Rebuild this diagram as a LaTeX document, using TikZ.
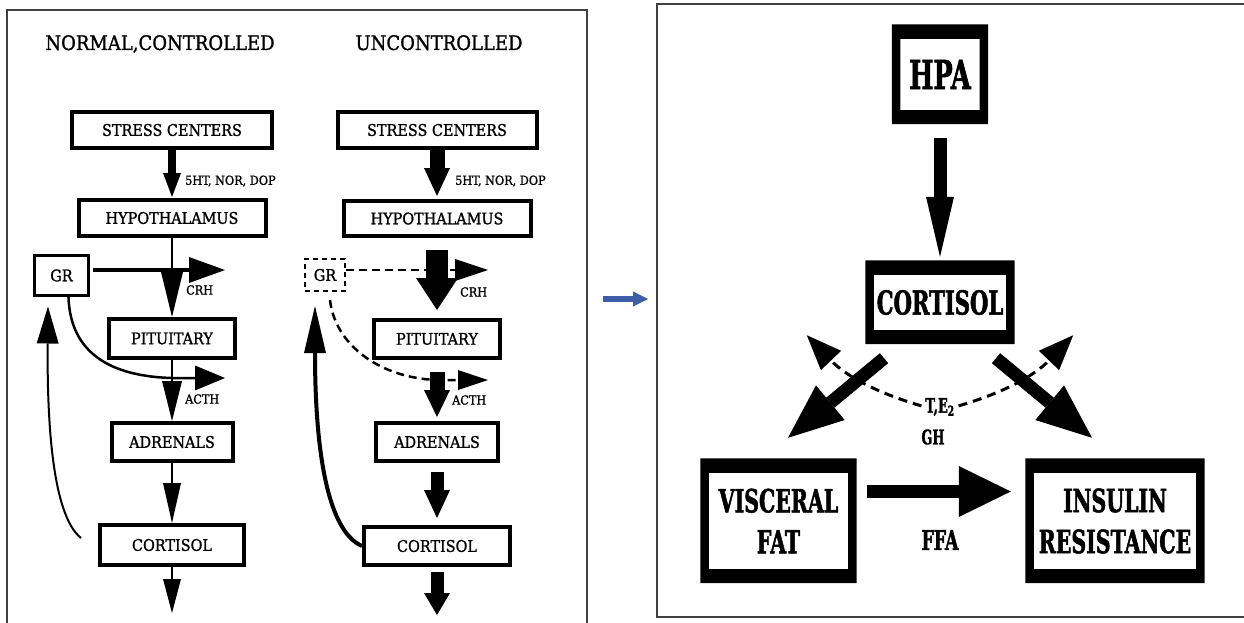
\documentclass[tikz,border=0pt]{standalone}
\usepackage{fontspec}
\setmainfont{DejaVu Serif}
\newfontfamily\thinfont[FakeStretch=0.9,FakeBold=1.2]{DejaVu Serif}
\newfontfamily\fatfont[FakeStretch=0.64,FakeBold=1.5]{DejaVu Serif}
\usetikzlibrary{arrows.meta,calc}
\definecolor{arrowblue}{RGB}{63,94,168}
\newcommand{\fatframe}[1]{\fill[even odd rule] ($(#1.north west)+(-8.5,-14.5)$) rectangle ($(#1.south east)+(8.5,14)$) (#1.north west) rectangle (#1.south east);}
\begin{document}
\begin{tikzpicture}[x=1pt,y=-1pt,
  box/.style={draw,line width=4pt,inner sep=0pt,font=\thinfont\fontsize{16}{18}\selectfont},
  lbl/.style={anchor=west,inner sep=0pt,font=\thinfont\fontsize{12.5}{14}\selectfont},
  fat/.style={inner sep=0pt,align=center,font=\fatfont\bfseries\fontsize{#1}{41}\selectfont},
  fat/.default=32,
  hd/.style 2 args={-{Triangle[length=#1pt,width=#2pt,line width=0pt]}},
  fbdash/.style={hd={35}{28},line width=3pt,dash pattern=on 9pt off 6pt,shorten <=4pt}]
  \useasboundingbox (0,0) rectangle (1244,623);
  \fill[white] (0,0) rectangle (1244,623);
  \draw[line width=1.5pt,black!75] (7,623) -- (7,10) -- (587,10) -- (587,623);
  \draw[line width=1.5pt,black!75] (1244,4) -- (657,4) -- (657,617) -- (1244,617);
  % normal, controlled
  \node[anchor=base,inner sep=0pt,font=\thinfont\fontsize{20}{22}\selectfont] (t1) at (160,50) {NORMAL,CONTROLLED};
  \node[box,minimum width=200pt,minimum height=36pt] (sc1) at (172,130) {STRESS CENTERS};
  \node[box,minimum width=187pt,minimum height=36pt] (hy1) at (172,218) {HYPOTHALAMUS};
  \node[box,line width=3pt,minimum width=54pt,minimum height=40pt] (gr1) at (61.5,275.5) {GR\hspace{12pt}};
  \node[box,minimum width=126pt,minimum height=39pt] (pi1) at (172,338.5) {PITUITARY};
  \node[box,minimum width=121pt,minimum height=38pt] (ad1) at (172,442) {ADRENALS};
  \node[box,minimum width=144pt,minimum height=40pt] (co1) at (172,545) {CORTISOL};
  \node[lbl] (nt1) at (185,181) {5HT, NOR, DOP};
  \node[lbl] (crhl1) at (186,290) {CRH};
  \node[lbl] (acthl1) at (185,399) {ACTH};
  \coordinate (crh1) at (225,270);
  \coordinate (acth1) at (225,378);
  \coordinate (out1) at (172,613);
  \draw[hd={24}{18},line width=8pt,shorten >=1pt] (sc1) -- (hy1);
  \draw[hd={45}{22},line width=2pt] (hy1) -- (pi1);
  \draw[hd={36}{26},line width=4pt,shorten <=3pt] (gr1.east |- crh1) -- (crh1);
  \draw[hd={40}{20},line width=2pt] (pi1) -- (ad1);
  \draw[hd={40}{18},line width=2pt] (ad1) -- (co1);
  \draw[hd={34}{18},line width=2pt] (co1) -- (out1);
  \draw[hd={30}{25},line width=2.5pt] ([xshift=7pt]gr1.south) .. controls (70,345) and (100,376) .. (pi1.south |- acth1) -- (acth1);
  \draw[hd={37}{22},line width=2pt] ([shift={(-17,-7)}]co1.west) .. controls (52,515) and (47,420) .. ($(gr1.south)+(-13.5,9.5)$);
  % uncontrolled
  \node[anchor=base,inner sep=0pt,font=\thinfont\fontsize{20}{22}\selectfont] (t2) at (439,50) {UNCONTROLLED};
  \node[box,minimum width=199pt,minimum height=36pt] (sc2) at (437,130) {STRESS CENTERS};
  \node[box,minimum width=187pt,minimum height=35pt] (hy2) at (437,218.5) {HYPOTHALAMUS};
  \node[box,line width=2pt,dash pattern=on 5pt off 4pt,minimum width=40pt,minimum height=32pt] (gr2) at (325,275) {GR};
  \node[box,minimum width=126pt,minimum height=38pt] (pi2) at (437,339) {PITUITARY};
  \node[box,minimum width=122pt,minimum height=38pt] (ad2) at (437,442) {ADRENALS};
  \node[box,minimum width=146pt,minimum height=38pt] (co2) at (437,546) {CORTISOL};
  \node[lbl] (nt2) at (455,181) {5HT, NOR, DOP};
  \node[lbl] (crhl2) at (460,292) {CRH};
  \node[lbl] (acthl2) at (452,400) {ACTH};
  \coordinate (crh2) at (488,270);
  \coordinate (acth2) at (488,380);
  \coordinate (out2) at (437,615);
  \draw[hd={28}{26},line width=15pt,shorten >=3pt] (sc2) -- (hy2);
  \draw[hd={32}{42},line width=22pt,shorten <=12pt,shorten >=8pt] (hy2) -- (pi2);
  \draw[hd={33}{22},line width=2.5pt,dash pattern=on 8pt off 5pt] (gr2.east |- crh2) -- (crh2);
  \draw[hd={27}{26},line width=15pt,shorten <=12pt,shorten >=4pt] (pi2) -- (ad2);
  \draw[hd={30}{20},line width=2.5pt,dash pattern=on 8pt off 5pt] ([shift={(5,8)}]gr2.south) .. controls (335,345) and (380,378) .. (pi2.south |- acth2) -- (acth2);
  \draw[hd={28}{26},line width=13pt,shorten <=9pt,shorten >=7pt] (ad2) -- (co2);
  \draw[hd={22}{26},line width=13pt,shorten <=5pt] (co2) -- (out2);
  \draw[hd={47}{22},line width=4pt] (co2.west) .. controls (325,530) and (315,440) .. ($(gr2.south)+(-10,14)$);
  % link
  \coordinate (gapl) at (603,299);
  \coordinate (gapr) at (648,299);
  \draw[hd={15}{15},line width=6pt,draw=arrowblue,fill=arrowblue] (gapl) -- (gapr);
  % right panel
  \node[fat=40,minimum width=79pt,minimum height=71pt] (hpa) at (940,74.5) {HPA};
  \node[fat=33,minimum width=132pt,minimum height=55pt] (cort) at (940,302.5) {CORTISOL};
  \node[fat,minimum width=139pt,minimum height=96pt] (visc) at (778.5,521) {VISCERAL\\FAT};
  \node[fat,minimum width=162pt,minimum height=96pt] (ins) at (1115,521) {INSULIN\\RESISTANCE};
  \foreach \n in {hpa,cort,visc,ins} {\fatframe{\n}}
  \node[fat=20] (te) at (940,407) {T,E\textsubscript{2}};
  \node[fat=20] (gh) at (933,437) {GH};
  \node[fat=27] (ffa) at (940,540) {FFA};
  \draw[hd={60}{28},line width=13pt,shorten <=28pt,shorten >=18pt] (hpa) -- (cort);
  \draw[hd={55}{45},line width=13pt] ($(cort.south)+(-56,28)$) -- ($(visc.north)+(9.5,-35)$);
  \draw[hd={55}{45},line width=13pt] ($(cort.south)+(56,28)$) -- ($(ins.north)+(-23,-35)$);
  \draw[fbdash] (te.west) to[bend left=15] ($(cort.south west)+(-67,5)$);
  \draw[fbdash] (te.east) to[bend right=15] ($(cort.south east)+(67,5)$);
  \draw[hd={52}{51},line width=13pt,shorten <=19pt,shorten >=23pt] ([yshift=29.5pt]visc.east) -- ([yshift=29.5pt]ins.west);
\end{tikzpicture}
\end{document}
